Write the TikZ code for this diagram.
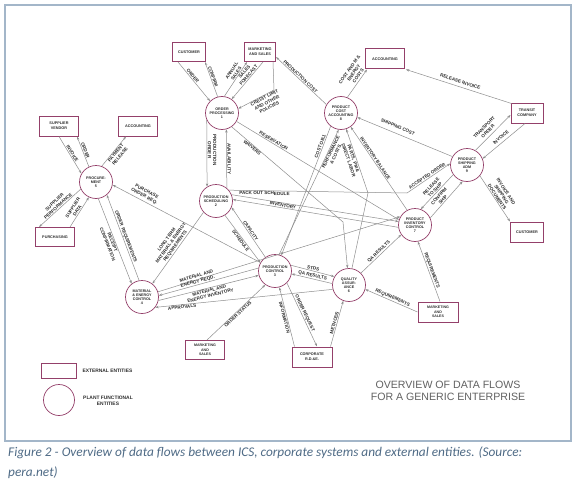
\documentclass[tikz,border=0pt]{standalone}
\usepackage{fontspec}
\setmainfont{Liberation Sans}
\newfontfamily\capfont{Carlito}
\usetikzlibrary{arrows.meta,calc}
\definecolor{plum}{HTML}{94406A}
\definecolor{flowgray}{HTML}{8E8E8E}
\definecolor{framec}{HTML}{A3B6C9}
\definecolor{capc}{HTML}{4F6B86}
\definecolor{labc}{HTML}{2E2E2E}
\begin{document}
\begin{tikzpicture}[x=1pt,y=-1pt,
  fe/.style={circle, draw=plum, line width=0.7pt, minimum size=33pt, inner sep=0pt, font=\fontsize{3.7}{4.1}\selectfont\bfseries, text=labc, align=center, fill=white},
  ee/.style={rectangle, draw=plum, line width=1pt, minimum width=36pt, minimum height=19pt, inner sep=1pt, font=\fontsize{3.8}{4.8}\selectfont\bfseries, text=labc, align=center, fill=white},
  flow/.style={draw=flowgray, line width=0.5pt, -{Stealth[length=3.4pt,width=2.4pt]}},
  lab/.style={font=\fontsize{4.6}{5.3}\selectfont\bfseries, text=labc, inner sep=0.7pt, align=center, sloped}]
\useasboundingbox (0,0) rectangle (578,487);
\fill[white] (0,0) rectangle (578,487);
\draw[framec, line width=1.4pt] (5,5) rectangle (571,441);

% functional entities
\node[fe] (OP) at (222,113) {ORDER\\PROCESSING\\1};
\node[fe] (PS) at (216,201) {PRODUCTION\\SCHEDULING\\2};
\node[fe] (PC) at (275,271) {PRODUCTION\\CONTROL\\3};
\node[fe] (MEC) at (142,297) {MATERIAL\\\& ENERGY\\CONTROL\\4};
\node[fe] (PROC) at (96,182) {PROCURE-\\MENT\\5};
\node[fe] (QA) at (349,285) {QUALITY\\ASSUR-\\ANCE\\6};
\node[fe] (PIC) at (415,225) {PRODUCT\\INVENTORY\\CONTROL\\7};
\node[fe] (PCA) at (341,113) {PRODUCT\\COST\\ACCOUNTING\\8};
\node[fe] (PSA) at (467,165) {PRODUCT\\SHIPPING\\ADM\\9};

% external entities
\node[ee, minimum width=33pt] (cust1) at (189,52) {CUSTOMER};
\node[ee, minimum width=31pt] (mks1) at (260,52) {MARKETING\\AND SALES};
\node[ee, minimum width=39pt, minimum height=20pt] (acc1) at (385,59) {ACCOUNTING};
\node[ee, minimum width=32pt, minimum height=20pt] (transit) at (527,113) {TRANSIT\\COMPANY};
\node[ee, minimum width=33pt, minimum height=20pt] (cust2) at (527,232) {CUSTOMER};
\node[ee, minimum width=39pt, minimum height=20pt] (vendor) at (59,126) {SUPPLIER\\VENDOR};
\node[ee, minimum width=39pt, minimum height=20pt] (acc2) at (138,126) {ACCOUNTING};
\node[ee, minimum width=39pt] (purch) at (55,237) {PURCHASING};
\node[ee, minimum width=39pt, font=\fontsize{3.6}{4.3}\selectfont\bfseries] (mks2) at (205,350) {MARKETING\\AND\\SALES};
\node[ee, minimum width=40pt, minimum height=20pt] (corp) at (312,357) {CORPORATE\\R.D.\&E.};
\node[ee, minimum width=40pt, minimum height=20pt, font=\fontsize{3.6}{4.3}\selectfont\bfseries] (mks3) at (438,312) {MARKETING\\AND\\SALES};

% flows
\draw[flow] ($(cust1.south west)+(6,0)$) -- node[lab, above, pos=0.4] {ORDER} (OP.135);
\draw[flow] (OP.105) -- node[lab, above, pos=0.55] {CONFIRM} ($(cust1.south east)+(-1,0)$);
\draw[flow] (OP.82) -- node[lab, above, pos=0.62] {ANNUAL\\SALES} ($(mks1.south west)+(3,0)$);
\draw[flow] ($(mks1.south)+(3,0)$) -- node[lab, above, pos=0.4] {SALES\\FORECAST} (OP.55);
\draw[flow] ($(mks1.south east)+(-3,0)$) -- (274,90) -- node[lab, below, pos=0.3] {CREDIT LIMIT\\AND OTHER\\POLICIES} (OP.15);
\draw[flow] (PCA.150) -- node[lab, above, pos=0.55] {PRODUCTION COST} ($(mks1.east)+(0,5)$);
\draw[flow] (PCA.68) -- node[lab, above=1pt, pos=0.7] {COST AND M \&\\ENERGY\\COSTS} ($(acc1.south west)+(2,0)$);
\draw[flow] ($(transit.north west)+(1,1)$) -- node[lab, above=2.5pt] {RELEASE INVOICE} ($(acc1.south east)+(1,0)$);
\draw[flow] (PSA.150) -- node[lab, above=4pt, pos=0.6] {SHIPPING COST} (PCA.345);
\draw[flow] (PSA.60) -- node[lab, above=2pt, pos=0.45] {TRANSPORT\\ORDER} ($(transit.west)+(0,2)$);
\draw[flow] ($(transit.south)+(-2,0)$) -- node[lab, above=2pt] {INVOICE} (PSA.22);
\draw[flow] (PSA.320) -- node[lab, above] {INVOICE AND\\SHIPPING\\DOCUMENTS} ($(cust2.north west)+(0,0)$);
\draw[flow] (OP.-30) -- node[lab, above, pos=0.22] {RESERVATION} (PIC.162);
\draw[flow] (OP.-55) -- node[lab, below, pos=0.2] {WAIVERS} (343,222) -- (QA.95);
\draw[flow] (PS.40) -- node[lab, below, pos=0.2] {PACK OUT SCHEDULE} (407,193) -- node[lab, above, pos=0.5] {ACCEPTED ORDER} (PSA.175);
\draw[flow] (PSA.215) -- node[lab, above, pos=0.5] {RELEASE\\TO SHIP} (PIC.70);
\draw[flow] (PIC.25) -- node[lab, above, pos=0.45] {CONFIRM\\SHIP} (PSA.255);
\draw[flow] (PIC.118) -- node[lab, above, pos=0.6] {INVENTORY BALANCE} (PCA.305);
\draw[flow] (PCA.232) -- node[lab, above, pos=0.16] {COST OBJ.} (PC.68);
\draw[flow] (PC.76) -- node[lab, below, pos=0.83] {PERFORMANCE\\\& COSTS} (PCA.262);
\draw[flow] (QA.80) -- (368,193) -- node[lab, below, pos=0.55] {PARTS, PM \&\\DIRECT LABOR} (PCA.288);
\draw[flow] (OP.205) -- node[lab, above, pos=0.45] {PRODUCTION\\ORDER} (PS.122);
\draw[flow] (PS.50) -- node[lab, above, pos=0.5] {AVAILABILITY} (OP.285);
\draw[flow] (PS.22) -- (PIC.168);
\draw[flow] (PIC.188) -- node[lab, above, pos=0.7] {INVENTORY} (PS.5);
\draw[flow] (MEC.18) -- (PIC.150);
\draw[flow] (PC.125) -- node[lab, above] {CAPACITY} (PS.-22);
\draw[flow] (PS.-58) -- node[lab, below] {SCHEDULE} (PC.150);
\draw[flow] (PC.20) -- node[lab, above] {STDS} (QA.150);
\draw[flow] (QA.175) -- node[lab, above] {QA RESULTS} (PC.-10);
\draw[flow] (QA.45) -- node[lab, above] {QA RESULTS} (PIC.215);
\draw[flow] (mks3.west) -- node[lab, above] {REQUIREMENTS} (QA.-15);
\draw[flow] ($(mks3.north)+(2,0)$) -- node[lab, above] {REQUIREMENTS} (PIC.-80);
\draw[flow] (PC.170) -- node[lab, above, pos=0.6] {MATERIAL AND\\ENERGY REQD.} (MEC.5);
\draw[flow] (MEC.-12) -- node[lab, below, pos=0.5] {MATERIAL AND\\ENERGY INVENTORY} (PC.195);
\draw[flow] (QA.195) -- node[lab, below, pos=0.85] {APPROVALS} (MEC.-38);
\draw[flow] ($(mks2.north)+(2,0)$) -- node[lab, below] {ORDER STATUS} (PC.235);
\draw[flow] ($(corp.north west)+(3,0)$) -- node[lab, below] {INFORMATION} (PC.-75);
\draw[flow] (PC.-45) -- node[lab, above] {ORDER REQUEST} ($(corp.north)+(5,0)$);
\draw[flow] ($(corp.north east)+(-2,0)$) -- node[lab, above] {METHODS} (QA.250);
\draw[flow] (PS.222) -- node[lab, above, pos=0.5] {LONG TERM\\MATERIAL \& ENERGY\\REQUIREMENTS} (MEC.52);
\draw[flow] (PC.150) -- node[lab, above=1.5pt, pos=0.8] {PURCHASE\\ORDER REQ.} (PROC.-10);
\draw[flow] (MEC.100) -- node[lab, above, pos=0.5] {ORDER REQUIREMENTS} (PROC.-50);
\draw[flow] (PROC.-82) -- node[lab, below] {RECEIPT\\CONFIRMATION} (MEC.128);
\draw[flow] (PROC.205) -- node[lab, above] {SUPPLIER\\PERFORMANCE} ($(purch.north west)+(4,0)$);
\draw[flow] ($(purch.north east)+(-5,0)$) -- node[lab, above] {SUPPLIER\\DATA} (PROC.245);
\draw[flow] ($(vendor.south)+(0,0)$) -- node[lab, above] {INVOICE} (PROC.150);
\draw[flow] (PROC.115) -- node[lab, above] {ORDER} ($(vendor.south east)+(-2,0)$);
\draw[flow] (PROC.70) -- node[lab, below] {PAYMENT\\RELEASE} ($(acc2.south west)+(8,0)$);

% legend
\node[ee, minimum width=35pt, minimum height=15pt] (legbox) at (58.5,370.5) {};
\node[font=\fontsize{4.9}{5.6}\selectfont\bfseries, text=labc, anchor=west] (legboxt) at (79,371) {EXTERNAL ENTITIES};
\node[fe, minimum size=31pt] (legcirc) at (59,400) {};
\node[font=\fontsize{4.9}{5.8}\selectfont\bfseries, text=labc, align=center] (legcirct) at (108,401) {PLANT FUNCTIONAL\\ENTITIES};

% title
\node[font=\fontsize{10.6}{11.8}\selectfont, text=black!62, align=center] (title) at (448,391) {OVERVIEW OF DATA FLOWS\\FOR A GENERIC ENTERPRISE};

% caption
\node[font=\capfont\itshape\fontsize{13.3}{19.5}\selectfont, text=capc, anchor=north west, align=left, inner sep=0pt] (cap) at (8,447) {Figure 2 - Overview of data flows between ICS, corporate systems and external entities. (Source:\\pera.net)};
\end{tikzpicture}
\end{document}
